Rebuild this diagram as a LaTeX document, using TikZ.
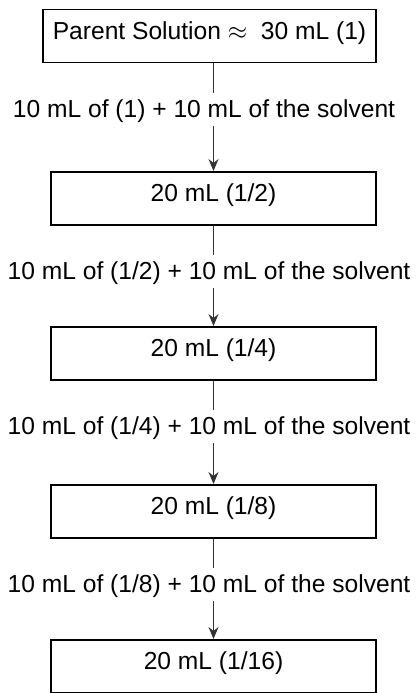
\documentclass[tikz,border=0pt]{standalone}
\usepackage{fontspec}
\setmainfont{Liberation Sans}
\usetikzlibrary{arrows.meta}
\begin{document}
\begin{tikzpicture}[x=1pt,y=-1pt,
  every node/.style={font=\fontsize{24.6}{29}\selectfont},
  stepbox/.style={draw=black,line width=1.5pt,minimum width=325pt,inner ysep=0pt,
    text height=30pt,text depth=23pt,anchor=north},
  lbl/.style={inner ysep=0pt,inner xsep=0pt,text height=24pt,text depth=9pt,anchor=base},
  conn/.style={draw=black!80,line width=1.2pt},
  arr/.style={conn,-{Stealth[length=12pt,width=10pt,inset=4pt]}}]
\useasboundingbox (0,0) rectangle (415,693);
\node[stepbox,minimum width=333pt] (b1) at (209.5,9) {Parent Solution $\approx$\ \ 30 mL (1)};
\node[stepbox] (b2) at (213.5,171) {20 mL (1/2)};
\node[stepbox] (b3) at (213.5,326) {20 mL (1/4)};
\node[stepbox] (b4) at (213.5,484) {20 mL (1/8)};
\node[stepbox] (b5) at (213.5,639) {20 mL (1/16)};
\node[lbl] (l1) at (204,117) {10 mL of (1) + 10 mL of the solvent};
\node[lbl] (l2) at (209,279) {10 mL of (1/2) + 10 mL of the solvent};
\node[lbl] (l3) at (209,434) {10 mL of (1/4) + 10 mL of the solvent};
\node[lbl] (l4) at (209,592) {10 mL of (1/8) + 10 mL of the solvent};
\draw[conn] (b1.south -| b2.north) -- (l1.north -| b2.north);
\draw[arr] (l1.south -| b2.north) -- (b2.north);
\draw[conn] (b2.south) -- (l2.north -| b2.south);
\draw[arr] (l2.south -| b3.north) -- (b3.north);
\draw[conn] (b3.south) -- (l3.north -| b3.south);
\draw[arr] (l3.south -| b4.north) -- (b4.north);
\draw[conn] (b4.south) -- (l4.north -| b4.south);
\draw[arr] (l4.south -| b5.north) -- (b5.north);
\end{tikzpicture}
\end{document}
